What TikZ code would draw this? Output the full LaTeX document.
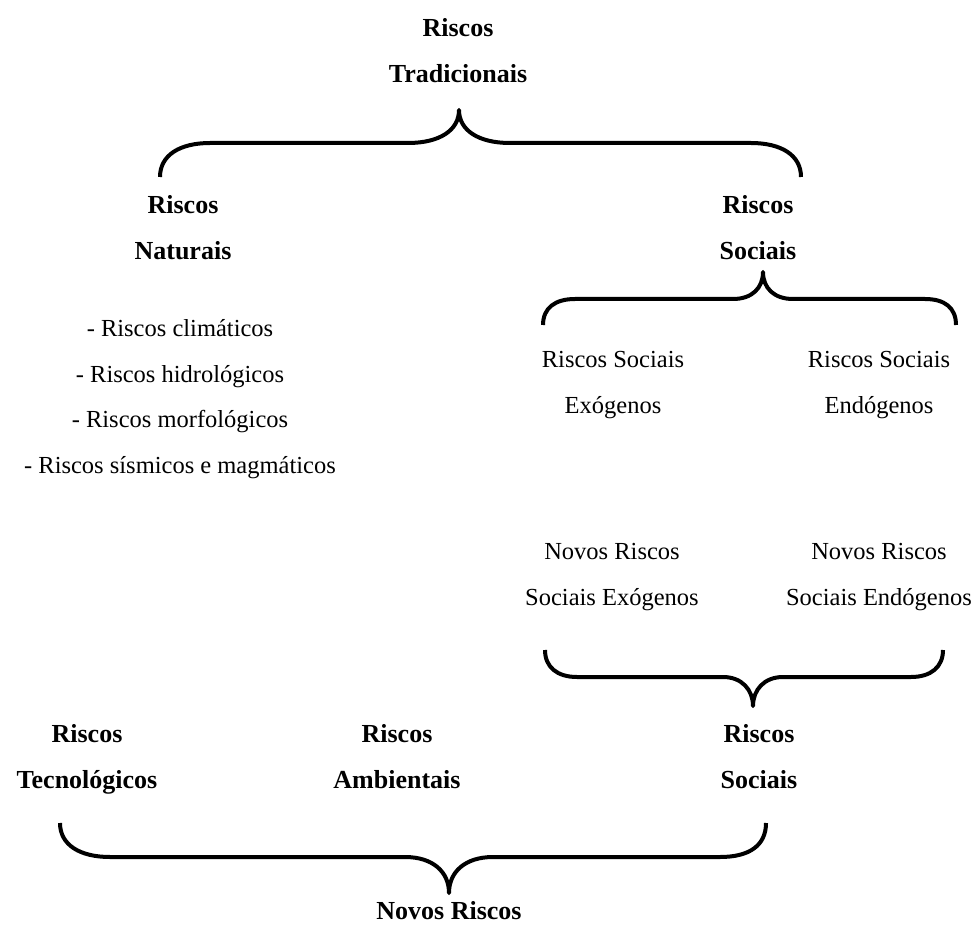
\documentclass[tikz,border=0pt]{standalone}
\usepackage{fontspec}
\setmainfont{Liberation Serif}
\begin{document}
\begin{tikzpicture}[x=1pt,y=-1pt,
  hd/.style={align=center,inner sep=0pt,font=\fontsize{26}{46}\selectfont\bfseries},
  tx/.style={align=center,inner sep=0pt,font=\fontsize{24.5}{45.5}\selectfont},
  brace/.style={line width=4pt,line join=round,line cap=butt}]
\useasboundingbox (0,0) rectangle (977,925);

\node[hd] (trad) at (458,51) {Riscos\\Tradicionais};
\node[hd] (nat) at (183,228) {Riscos\\Naturais};
\node[hd] (soc1) at (758,228) {Riscos\\Sociais};
\node[tx] (list) at (180,399) {- Riscos climáticos\\- Riscos hidrológicos\\- Riscos morfológicos\\- Riscos sísmicos e magmáticos};
\node[tx] (exo) at (613,385) {Riscos Sociais\\Exógenos};
\node[tx] (endo) at (879,385) {Riscos Sociais\\Endógenos};
\node[tx] (nexo) at (612,577) {Novos Riscos\\Sociais Exógenos};
\node[tx] (nendo) at (879,577) {Novos Riscos\\Sociais Endógenos};
\node[hd] (tec) at (87,759) {Riscos\\Tecnológicos};
\node[hd] (amb) at (397,757) {Riscos\\Ambientais};
\node[hd] (soc2) at (759,757) {Riscos\\Sociais};
\node[hd] (novos) at (449,911) {Novos Riscos};

% top brace
\draw[brace] (160,177) .. controls (160,155) and (180,143) .. (210,143) -- (408,143)
  .. controls (440,143) and (459,130) .. (459,110)
  .. controls (459,130) and (478,143) .. (510,143) -- (751,143)
  .. controls (781,143) and (801,155) .. (801,177);
% social brace
\draw[brace] (543,325) .. controls (543,308) and (555,299) .. (575,299) -- (733,299)
  .. controls (752,299) and (763,288) .. (763,272)
  .. controls (763,288) and (774,299) .. (793,299) -- (925,299)
  .. controls (945,299) and (956,308) .. (956,325);
% new social brace
\draw[brace] (545,650) .. controls (545,667) and (557,677) .. (577,677) -- (723,677)
  .. controls (742,677) and (753,690) .. (753,706)
  .. controls (753,690) and (764,677) .. (783,677) -- (911,677)
  .. controls (931,677) and (943,667) .. (943,650);
% bottom brace
\draw[brace] (60,823) .. controls (60,845) and (80,857) .. (110,857) -- (405,857)
  .. controls (433,857) and (449,872) .. (449,893)
  .. controls (449,872) and (465,857) .. (493,857) -- (720,857)
  .. controls (750,857) and (766,845) .. (766,823);
\end{tikzpicture}
\end{document}
